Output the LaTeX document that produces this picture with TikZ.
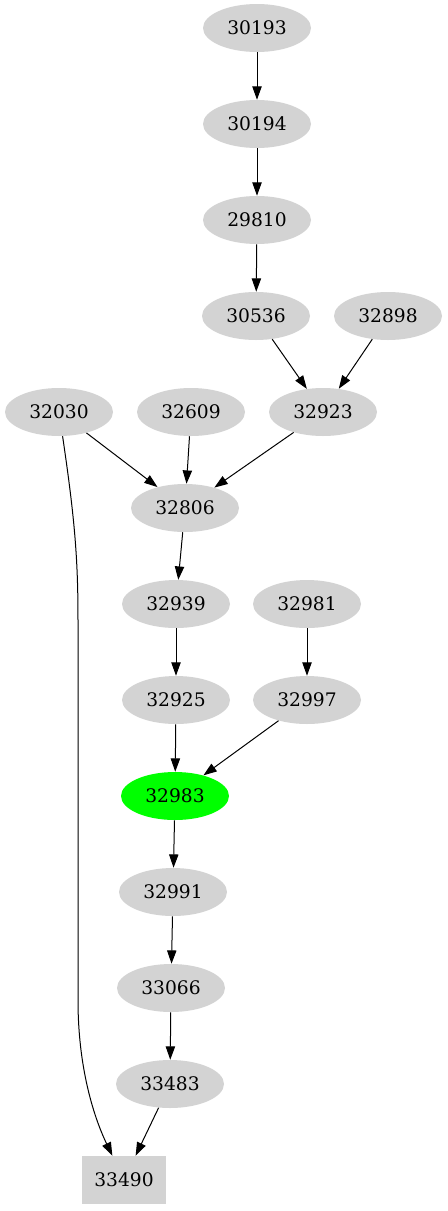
\documentclass[tikz,border=0pt]{standalone}
\usepackage{fontspec}
\setmainfont{DejaVu Serif}
\usepackage{tikz}
\usetikzlibrary{arrows.meta, shapes.geometric}

\definecolor{nodegray}{HTML}{D3D3D3}
\definecolor{hitgreen}{HTML}{00FF00}

\begin{document}
\begin{tikzpicture}[
  x=0.75pt, y=-0.75pt,
  vertex/.style={ellipse, fill=nodegray, inner sep=0pt, minimum width=81pt, minimum height=36pt, font=\fontsize{14}{16}\selectfont},
  target/.style={vertex, fill=hitgreen},
  sink/.style={rectangle, fill=nodegray, inner sep=0pt, minimum width=63pt, minimum height=36pt, font=\fontsize{14}{16}\selectfont},
  arrow/.style={-{Triangle[length=10pt, width=7pt]}, line width=0.75pt}
]
\useasboundingbox (0,0) rectangle (447,1211);

\node[vertex] (n30193) at (257,28) {30193};
\node[vertex] (n30194) at (257,124) {30194};
\node[vertex] (n29810) at (257,220) {29810};
\node[vertex] (n30536) at (256,316) {30536};
\node[vertex] (n32898) at (388,316) {32898};
\node[vertex] (n32030) at (59,412) {32030};
\node[vertex] (n32609) at (191,412) {32609};
\node[vertex] (n32923) at (323,412) {32923};
\node[vertex] (n32806) at (185,508) {32806};
\node[vertex] (n32939) at (176,604) {32939};
\node[vertex] (n32981) at (307,604) {32981};
\node[vertex] (n32925) at (176,700) {32925};
\node[vertex] (n32997) at (307,700) {32997};
\node[target] (n32983) at (175,796) {32983};
\node[vertex] (n32991) at (173,892) {32991};
\node[vertex] (n33066) at (171,988) {33066};
\node[vertex] (n33483) at (170,1084) {33483};
\node[sink] (n33490) at (124,1180) {33490};

\draw[arrow] (n30193) -- (n30194);
\draw[arrow] (n30194) -- (n29810);
\draw[arrow] (n29810) -- (n30536);
\draw[arrow] (n30536) -- (n32923);
\draw[arrow] (n32898) -- (n32923);
\draw[arrow] (n32030) -- (n32806);
\draw[arrow] (n32609) -- (n32806);
\draw[arrow] (n32923) -- (n32806);
\draw[arrow] (n32806) -- (n32939);
\draw[arrow] (n32939) -- (n32925);
\draw[arrow] (n32981) -- (n32997);
\draw[arrow] (n32925) -- (n32983);
\draw[arrow] (n32997) -- (n32983);
\draw[arrow] (n32983) -- (n32991);
\draw[arrow] (n32991) -- (n33066);
\draw[arrow] (n33066) -- (n33483);
\draw[arrow] (n33483) -- (n33490);
% long edge down the left side
\draw[arrow] (n32030) .. controls (75,520) and (78,560) .. (78,620) -- (78,1000) .. controls (78,1080) and (100,1130) .. (n33490);
\end{tikzpicture}
\end{document}
